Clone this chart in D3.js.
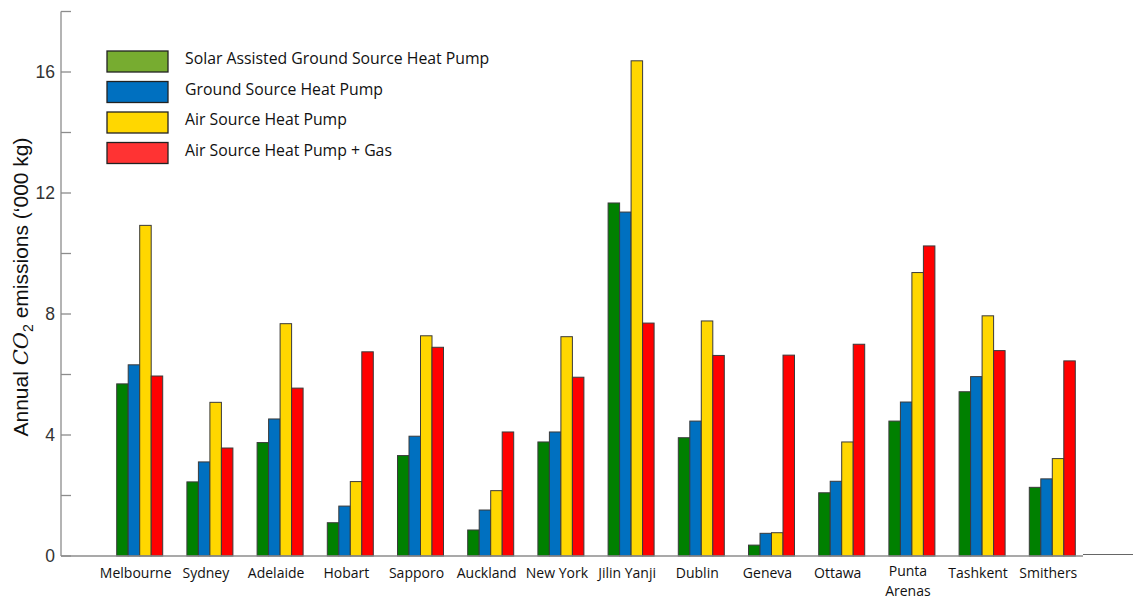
<!DOCTYPE html>
<html>
<head>
<meta charset="utf-8">
<script src="https://cdn.jsdelivr.net/npm/d3@7"></script>
<style>
  html, body { margin: 0; padding: 0; background: #fff; }
  svg { display: block; }
</style>
</head>
<body>
<svg id="chart" width="1133" height="600"></svg>
<script>
// Cities along the x axis
const cities = ["Melbourne", "Sydney", "Adelaide", "Hobart", "Sapporo", "Auckland", "New York",
  "Jilin Yanji", "Dublin", "Geneva", "Ottawa", "Punta Arenas", "Tashkent", "Smithers"];

// Heating systems (series)
const systems = ["Solar Assisted Ground Source Heat Pump", "Ground Source Heat Pump",
  "Air Source Heat Pump", "Air Source Heat Pump + Gas"];

// Annual CO2 emissions ('000 kg) per city, one array per system
const sagshp = [5.69, 2.45, 3.75, 1.10, 3.32, 0.86, 3.77, 11.67, 3.91, 0.36, 2.09, 4.46, 5.43, 2.27];
const gshp   = [6.32, 3.11, 4.53, 1.65, 3.96, 1.52, 4.10, 11.37, 4.46, 0.75, 2.47, 5.09, 5.93, 2.55];
const ashp   = [10.93, 5.08, 7.68, 2.46, 7.28, 2.16, 7.25, 16.37, 7.77, 0.77, 3.77, 9.37, 7.94, 3.22];
const ashpGas = [5.95, 3.57, 5.55, 6.75, 6.90, 4.10, 5.91, 7.70, 6.63, 6.64, 7.00, 10.25, 6.79, 6.45];

// Axis ticks
const yMajorTicks = [0, 4, 8, 12, 16];
const yMinorTicks = [2, 6, 10, 14, 18];

const seriesValues = [sagshp, gshp, ashp, ashpGas];
const barColors = ["#008000", "#0070C0", "#FFD700", "#FF0000"];
const legendColors = ["#77AC30", "#0070C0", "#FFD700", "#FF3333"];

const svg = d3.select("#chart");

const y = d3.scaleLinear().domain([0, 18]).range([556, 11.5]);
const x0 = d3.scaleBand().domain(cities).range([104.6, 1087.4]).padding(0);
const step = x0.bandwidth();
const groupW = 46;
const x1 = d3.scaleBand().domain(systems)
  .range([(step - groupW) / 2, (step + groupW) / 2]).padding(0);

const axisColor = "#8c8c8c";

// Bars
const groups = svg.append("g").selectAll("g")
  .data(cities)
  .join("g")
  .attr("transform", d => `translate(${x0(d)},0)`);

groups.selectAll("rect")
  .data((c, ci) => systems.map((s, si) => ({ s, si, v: seriesValues[si][ci] })))
  .join("rect")
  .attr("x", d => x1(d.s))
  .attr("width", x1.bandwidth())
  .attr("y", d => y(d.v))
  .attr("height", d => y(0) - y(d.v))
  .attr("fill", d => barColors[d.si])
  .attr("stroke", "#3a3a3a")
  .attr("stroke-width", 1);

// Y axis with inward ticks
const yAxisG = svg.append("g").attr("transform", "translate(61,0)");
yAxisG.append("line")
  .attr("x1", 0).attr("x2", 0)
  .attr("y1", y(18)).attr("y2", y(0))
  .attr("stroke", axisColor).attr("stroke-width", 1.3);
yAxisG.selectAll("line.tick")
  .data(yMajorTicks.concat(yMinorTicks))
  .join("line")
  .attr("class", "tick")
  .attr("x1", 0).attr("x2", 10)
  .attr("y1", d => y(d)).attr("y2", d => y(d))
  .attr("stroke", axisColor).attr("stroke-width", 1.3);
yAxisG.selectAll("text")
  .data(yMajorTicks)
  .join("text")
  .attr("x", -6)
  .attr("y", d => y(d))
  .attr("dy", "0.36em")
  .attr("text-anchor", "end")
  .attr("font-family", "Liberation Sans, Arial, sans-serif")
  .attr("font-size", 17.5)
  .attr("fill", "#333")
  .text(d => d);

// X axis baseline
svg.append("line")
  .attr("x1", 61).attr("x2", 1083)
  .attr("y1", y(0)).attr("y2", y(0))
  .attr("stroke", axisColor).attr("stroke-width", 1.3);
svg.append("line")
  .attr("x1", 1083).attr("x2", 1133)
  .attr("y1", y(0) - 1.5).attr("y2", y(0) - 1.5)
  .attr("stroke", "#666").attr("stroke-width", 1);

// City labels (one text per line so wrapped names stack cleanly)
const xLabelG = svg.append("g")
  .attr("font-family", "Open Sans, Noto Sans, sans-serif")
  .attr("font-size", 14)
  .attr("fill", "#111")
  .attr("text-anchor", "middle");
cities.forEach(c => {
  const words = c === "Punta Arenas" ? ["Punta", "Arenas"] : [c];
  words.forEach((w, i) => {
    xLabelG.append("text")
      .attr("x", x0(c) + step / 2 - 4)
      .attr("y", words.length > 1 ? 576 + i * 19.5 : 578)
      .text(w);
  });
});

// Y axis title
const yTitle = svg.append("text")
  .attr("transform", "translate(28,287) rotate(-90)")
  .attr("text-anchor", "middle")
  .attr("font-family", "Liberation Sans, Arial, sans-serif")
  .attr("font-size", 21)
  .attr("fill", "#111");
yTitle.append("tspan").text("Annual ");
yTitle.append("tspan").attr("font-family", "DejaVu Serif, serif").attr("font-style", "italic").text("CO");
yTitle.append("tspan").attr("font-size", 14).attr("dy", 5).text("2");
yTitle.append("tspan").attr("dy", -5).text(" emissions (\u2018000 kg)");

// Legend
const legend = svg.append("g").selectAll("g")
  .data(systems)
  .join("g")
  .attr("transform", (d, i) => `translate(107,${51 + i * 30.5})`);
legend.append("rect")
  .attr("width", 61).attr("height", 21)
  .attr("fill", (d, i) => legendColors[i])
  .attr("stroke", "#222").attr("stroke-width", 1.3);
legend.append("text")
  .attr("x", 78).attr("y", 7.5).attr("dy", "0.36em")
  .attr("font-family", "Open Sans, Noto Sans, sans-serif")
  .attr("font-size", 15.8)
  .attr("fill", "#111")
  .text(d => d);
</script>
</body>
</html>
